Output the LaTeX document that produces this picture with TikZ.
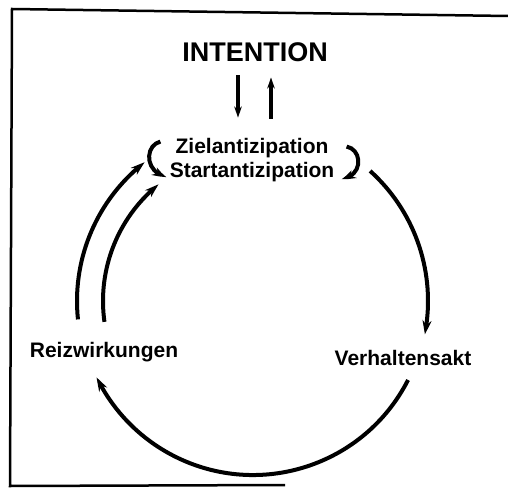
\documentclass[tikz,border=0pt]{standalone}
\usepackage{fontspec}
\setmainfont{Liberation Sans}
\usetikzlibrary{arrows.meta,bending}

\begin{document}
\begin{tikzpicture}[
    x=1pt, y=1pt,
    lbl/.style={font=\bfseries\fontsize{21}{25}\selectfont, inner sep=0pt, anchor=base},
    arr/.style={-{Stealth[length=14pt,width=9pt,bend]}, line width=4pt},
    thinarr/.style={-{Stealth[length=11pt,width=7.5pt]}, line width=3.5pt},
    frame/.style={line width=2.5pt}
]
    \useasboundingbox (0,0) rectangle (508,493);
    \draw[frame] (508,477) -- (12,484) -- (10,7) -- (285,8);

    \node[lbl, font=\bfseries\fontsize{27}{31}\selectfont] (intention) at (255,431) {INTENTION};
    \node[lbl] (ziel) at (252,339) {Zielantizipation};
    \node[lbl] (start) at (252,315) {Startantizipation};
    \node[lbl] (reiz) at (104,136) {Reizwirkungen};
    \node[lbl] (akt) at (403,128) {Verhaltensakt};
    \coordinate (mid) at (253,192);

    \draw[thinarr] ([xshift=-17pt,yshift=-13pt]intention.south) -- ([xshift=-14pt,yshift=21pt]ziel.north);
    \draw[thinarr] ([xshift=19pt,yshift=20pt]ziel.north) -- ([xshift=16pt,yshift=-15pt]intention.south);

    \draw[arr] ([xshift=-15pt,yshift=7pt]ziel.west) .. controls +(-16,-4) and +(-22,4) .. ([xshift=-3pt,yshift=-4pt]start.west);
    \draw[arr] ([xshift=18pt,yshift=2pt]ziel.east) .. controls +(16,-3) and +(22,2) .. ([xshift=7pt,yshift=-6pt]start.east);

    \draw[arr] (mid) ++(48:175) arc[start angle=48, end angle=-11, radius=175];
    \draw[arr] (mid) ++(-27:174) arc[start angle=-27, end angle=-154, radius=174];
    \draw[arr] (mid) ++(186:176) arc[start angle=186, end angle=128, radius=176];
    \draw[arr] (mid) ++(188:150) arc[start angle=188, end angle=129, radius=150];
\end{tikzpicture}
\end{document}
